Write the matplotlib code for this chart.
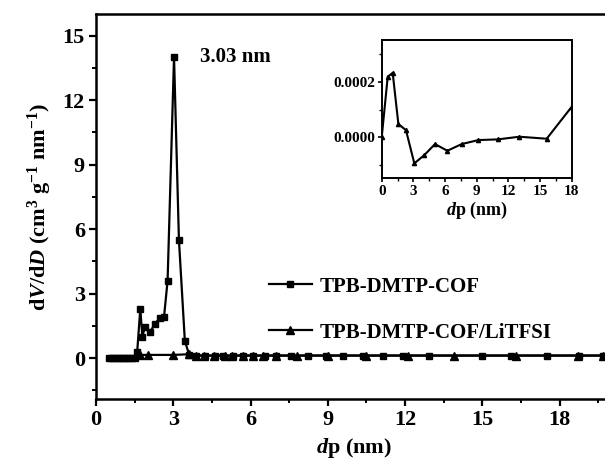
import matplotlib
matplotlib.use("Agg")
import matplotlib.pyplot as plt
from matplotlib.ticker import MultipleLocator, FixedLocator

plt.rcParams['font.family'] = ['Liberation Serif', 'DejaVu Serif']
plt.rcParams['font.weight'] = 'bold'
plt.rcParams['mathtext.fontset'] = 'custom'
plt.rcParams['mathtext.rm'] = 'Liberation Serif:bold'
plt.rcParams['mathtext.it'] = 'Liberation Serif:italic:bold'
plt.rcParams['mathtext.bf'] = 'Liberation Serif:bold'

# ---- data: TPB-DMTP-COF (squares)
cof_x = [0.50, 0.60, 0.70, 0.80, 0.90, 1.00, 1.10, 1.20, 1.30, 1.40, 1.50, 1.60,
         1.72, 1.80, 1.90, 2.10, 2.28, 2.48, 2.64, 2.78, 3.03, 3.22, 3.45, 3.62,
         3.90, 4.22, 4.61, 4.94, 5.32, 5.71, 6.10, 6.55, 7.00, 7.58, 8.23, 8.94,
         9.59, 10.36, 11.14, 11.91, 12.95, 15.00, 16.10, 17.50, 18.76, 19.70]
cof_y = [0, 0, 0, 0, 0, 0, 0, 0, 0, 0, 0, 0.3,
         2.3, 1.0, 1.45, 1.2, 1.6, 1.85, 1.9, 3.6, 14.0, 5.5, 0.8, 0.15,
         0.12, 0.12, 0.12, 0.12, 0.12, 0.12, 0.12, 0.12, 0.12, 0.12, 0.12, 0.12,
         0.12, 0.12, 0.12, 0.12, 0.12, 0.12, 0.12, 0.12, 0.12, 0.12]

# ---- data: TPB-DMTP-COF/LiTFSI (triangles)
li_x = [1.70, 2.03, 3.00, 3.60, 3.90, 4.20, 4.60, 5.00, 5.30, 5.70, 6.10, 6.50,
        7.00, 7.80, 9.00, 10.50, 12.10, 13.90, 16.30, 18.70, 19.70]
li_y = [0.15, 0.15, 0.15, 0.18, 0.12, 0.12, 0.12, 0.12, 0.12, 0.12, 0.12, 0.12,
        0.12, 0.12, 0.12, 0.12, 0.12, 0.12, 0.12, 0.12, 0.12]

# ---- inset data
ins_x = [0.0, 0.57, 1.04, 1.58, 2.30, 3.09, 4.04, 5.05, 6.22, 7.58, 9.16, 10.99, 13.04, 15.63, 18.0]
ins_y = [0.0, 0.000218, 0.000232, 0.000048, 0.000026, -0.0000934, -0.0000635, -0.000024,
         -0.000048, -0.000024, -0.0000096, -0.0000072, 0.0000024, -0.0000048, 0.00011]

main_xticks = [0, 3, 6, 9, 12, 15, 18]
main_yticks = [0, 3, 6, 9, 12, 15]
ins_xticks = [0, 3, 6, 9, 12, 15, 18]
ins_yticks = [0.0, 0.0002]
ins_yticklabels = ['0.0000', '0.0002']

fig = plt.figure(figsize=(6.05, 4.66), dpi=100)
ax = fig.add_axes([96/605, 1-399/466, 1 - 96/605 + 0.01, (399-14)/466])

ax.plot(cof_x, cof_y, '-s', color='black', lw=1.6, ms=5, label='TPB-DMTP-COF')
ax.plot(li_x, li_y, '-^', color='black', lw=1.6, ms=5.5, label='TPB-DMTP-COF/LiTFSI')

ax.set_xlim(0, 20.0)
ax.set_ylim(-1.9, 16.0)
ax.xaxis.set_major_locator(FixedLocator(main_xticks))
ax.xaxis.set_minor_locator(MultipleLocator(1.5))
ax.yaxis.set_major_locator(FixedLocator(main_yticks))
ax.yaxis.set_minor_locator(MultipleLocator(1.5))
ax.tick_params(which='major', direction='out', length=5, width=1.6, labelsize=16, pad=3)
ax.tick_params(which='minor', direction='out', length=3, width=1.4)
for lab in ax.get_xticklabels() + ax.get_yticklabels():
    lab.set_fontweight('bold')
for s in ['left', 'bottom', 'top']:
    ax.spines[s].set_linewidth(1.8)
ax.spines['right'].set_visible(False)

ax.set_xlabel(r'$\mathit{d}$p (nm)', fontsize=16, fontweight='bold', labelpad=4)
ax.set_ylabel(r'd$\mathit{V}$/d$\mathit{D}$ (cm$^{3}$ g$^{-1}$ nm$^{-1}$)', fontsize=16,
              fontweight='bold', labelpad=6)

ax.text(4.05, 14.0, '3.03 nm', fontsize=15, fontweight='bold', va='center', ha='left')

leg = ax.legend(loc='upper left', bbox_to_anchor=(0.335, 0.318), frameon=False,
                fontsize=15, handlelength=2.1, handletextpad=0.35, labelspacing=1.25,
                borderaxespad=0, borderpad=0)
for t in leg.get_texts():
    t.set_fontweight('bold')

# ---- inset
axi = fig.add_axes([381.7/605, 1-178.3/466, 190/605, 138.3/466])
axi.plot(ins_x, ins_y, '-^', color='black', lw=1.5, ms=3)
axi.set_xlim(0, 18)
axi.set_ylim(-0.000147, 0.00035)
axi.xaxis.set_major_locator(FixedLocator(ins_xticks))
axi.xaxis.set_minor_locator(MultipleLocator(1.5))
axi.yaxis.set_major_locator(FixedLocator(ins_yticks))
axi.set_yticklabels(ins_yticklabels)
axi.yaxis.set_minor_locator(MultipleLocator(0.0001))
axi.tick_params(which='major', direction='out', length=3, width=1.2, labelsize=11, pad=2)
axi.tick_params(which='minor', direction='out', length=2, width=1.0)
for lab in axi.get_xticklabels() + axi.get_yticklabels():
    lab.set_fontweight('bold')
for s in axi.spines.values():
    s.set_linewidth(1.4)
axi.set_xlabel(r'$\mathit{d}$p (nm)', fontsize=13, fontweight='bold', labelpad=1)

fig.savefig('out.png', dpi=100)
